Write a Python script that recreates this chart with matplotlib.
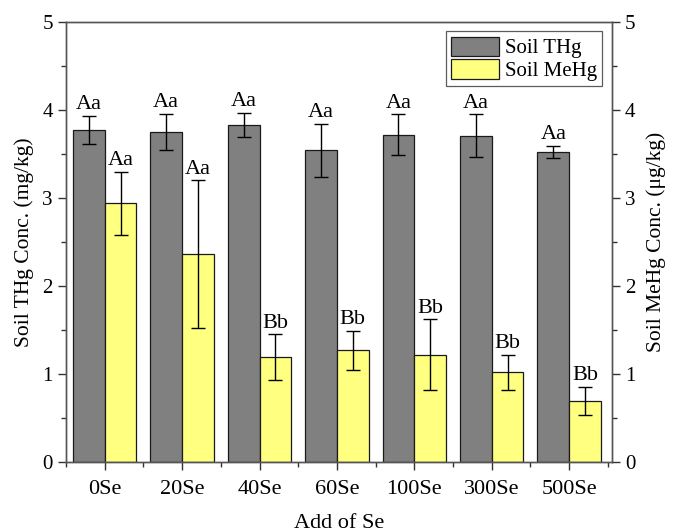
import matplotlib
matplotlib.use("Agg")
import matplotlib.pyplot as plt
import numpy as np
from matplotlib.ticker import MultipleLocator

plt.rcParams['font.family'] = ['Liberation Serif', 'DejaVu Serif']

categories = ['0Se', '20Se', '40Se', '60Se', '100Se', '300Se', '500Se']
thg = [3.77, 3.75, 3.83, 3.54, 3.72, 3.71, 3.52]
thg_err = [0.16, 0.21, 0.14, 0.30, 0.23, 0.24, 0.07]
mehg = [2.94, 2.36, 1.19, 1.27, 1.22, 1.02, 0.69]
mehg_err = [0.36, 0.84, 0.26, 0.22, 0.40, 0.20, 0.16]
thg_labels = ['Aa'] * 7
mehg_labels = ['Aa', 'Aa', 'Bb', 'Bb', 'Bb', 'Bb', 'Bb']

fig = plt.figure(figsize=(6.73, 5.32), dpi=100)
ax = fig.add_axes([0.098, 0.1316, 0.811, 0.827])
ax2 = ax.twinx()

x = np.arange(len(categories))
w = 0.41
gray = '#808080'
yellow = '#FFFF80'
ax.bar(x - w / 2, thg, w, color=gray, edgecolor='#1a1a1a', linewidth=0.9, label='Soil THg', zorder=2)
ax.errorbar(x - w / 2, thg, yerr=thg_err, fmt='none', ecolor='black', elinewidth=1, capsize=5, capthick=1, zorder=3)
ax.bar(x + w / 2, mehg, w, color=yellow, edgecolor='#1a1a1a', linewidth=0.9, label='Soil MeHg', zorder=2)
ax.errorbar(x + w / 2, mehg, yerr=mehg_err, fmt='none', ecolor='black', elinewidth=1, capsize=5, capthick=1, zorder=3)

for xi, v, e, t in zip(x, thg, thg_err, thg_labels):
    ax.text(xi - w / 2, v + e + 0.02, t, ha='center', va='bottom', fontsize=16)
for xi, v, e, t in zip(x, mehg, mehg_err, mehg_labels):
    ax.text(xi + w / 2, v + e + 0.02, t, ha='center', va='bottom', fontsize=16)

ax.set_xlim(-0.5, 6.55)
ax.set_ylim(0, 5)
ax2.set_ylim(0, 5)
ax.set_xticks(x)
ax.set_xticklabels(categories, fontsize=16)
ax.set_xticks(np.arange(-0.5, 7, 1), minor=True)
ax.yaxis.set_major_locator(MultipleLocator(1))
ax.yaxis.set_minor_locator(MultipleLocator(0.5))
ax2.yaxis.set_major_locator(MultipleLocator(1))
ax2.yaxis.set_minor_locator(MultipleLocator(0.5))
ax.tick_params(axis='y', labelsize=15, direction='out', length=6, width=1, colors='#333333', labelcolor='black')
ax.tick_params(axis='y', which='minor', direction='out', length=3.5, width=1, colors='#333333')
ax.tick_params(axis='x', which='major', direction='out', length=6, width=1, colors='#333333', labelcolor='black', pad=7)
ax.tick_params(axis='x', which='minor', direction='out', length=3.5, width=1, colors='#333333')
ax2.tick_params(axis='y', labelsize=15, direction='out', length=6, width=1, colors='#333333', labelcolor='black')
ax2.tick_params(axis='y', which='minor', direction='out', length=3.5, width=1, colors='#333333')
for a in (ax, ax2):
    for s in a.spines.values():
        s.set_color('#555555')
        s.set_linewidth(1)

ax.set_xlabel('Add of Se', fontsize=16)
ax.xaxis.set_label_coords(0.5, -0.118)
ax.set_ylabel('Soil THg Conc. (mg/kg)', fontsize=15.5, labelpad=6)
ax2.set_ylabel('Soil MeHg Conc. (μg/kg)', fontsize=15.5, labelpad=8)

leg = ax.legend(loc='upper right', fontsize=15, frameon=True, fancybox=False, edgecolor='#333333',
                handlelength=2.3, handleheight=1.05, handletextpad=0.3, borderpad=0.25,
                labelspacing=0.05, borderaxespad=0.45)
leg.get_frame().set_linewidth(0.9)

fig.savefig('out.png', dpi=100)
